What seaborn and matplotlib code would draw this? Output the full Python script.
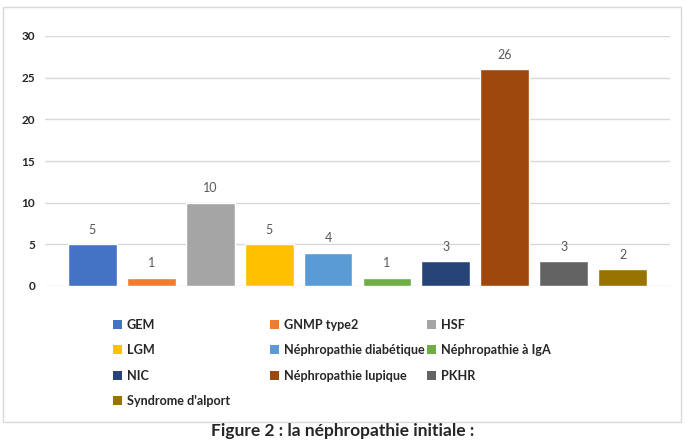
import matplotlib
matplotlib.use('Agg')
import matplotlib.pyplot as plt
import seaborn as sns
import pandas as pd
from matplotlib.patches import Patch, Rectangle

# data
categories = ['GEM', 'GNMP type2', 'HSF', 'LGM', 'Néphropathie diabétique',
              'Néphropathie à IgA', 'NIC', 'Néphropathie lupique', 'PKHR',
              "Syndrome d'alport"]
counts = [5, 1, 10, 5, 4, 1, 3, 26, 3, 2]
colors = ['#4472C4', '#ED7D31', '#A5A5A5', '#FFC000', '#5B9BD5',
          '#70AD47', '#264478', '#9E480E', '#636363', '#997300']
y_ticks = [0, 5, 10, 15, 20, 25, 30]
caption = 'Figure 2 : la néphropathie initiale :'

df = pd.DataFrame({'cat': categories, 'n': counts})

sns.set_style('white')
plt.rcParams['font.family'] = ['Lato', 'DejaVu Sans']

W, H = 685, 441
fig = plt.figure(figsize=(W / 100, H / 100), dpi=100)

# outer frame of the chart
fig.patches.append(Rectangle((3 / W, 1 - 422 / H), 678 / W, 415 / H,
                             transform=fig.transFigure, fill=False,
                             edgecolor='#D9D9D9', linewidth=1))

ax = fig.add_axes([45 / W, 1 - 286 / H, 625 / W, 250 / H])
sns.barplot(data=df, x='cat', y='n', hue='cat', palette=colors,
            width=0.83, legend=False, ax=ax, saturation=1)

for c in ax.containers:
    ax.bar_label(c, padding=6, fontsize=9, color='#595959')

ax.set_xlim(-0.8, 9.8)
ax.set_ylim(0, 30)
ax.set_yticks(y_ticks)
ax.set_yticklabels([str(t) for t in y_ticks], fontweight='bold', fontsize=8.5)
ax.set_xticks([])
ax.set_xlabel('')
ax.set_ylabel('')
ax.tick_params(axis='y', length=0, pad=7)
for s in ax.spines.values():
    s.set_visible(False)
ax.yaxis.grid(True, color='#D9D9D9', linewidth=1)
ax.set_axisbelow(True)

# legend: three columns laid out like the Excel one
col_items = [[0, 3, 6, 9], [1, 4, 7], [2, 5, 8]]
col_x = [113, 270, 427]
for xs, idx in zip(col_x, col_items):
    handles = [Patch(facecolor=colors[i], edgecolor='none') for i in idx]
    labels = [categories[i] for i in idx]
    leg = fig.legend(handles, labels, loc='upper left',
                     bbox_to_anchor=(xs / W, 1 - 319 / H),
                     frameon=False, handlelength=0.75, handleheight=0.75,
                     handletextpad=0.35, labelspacing=1.05, borderaxespad=0,
                     borderpad=0, prop={'weight': 'bold', 'size': 9.1})

fig.text(343 / W, 1 - 439 / H, caption, ha='center', va='bottom',
         fontsize=12.5, fontweight='bold')

fig.savefig('out.png', dpi=100)
